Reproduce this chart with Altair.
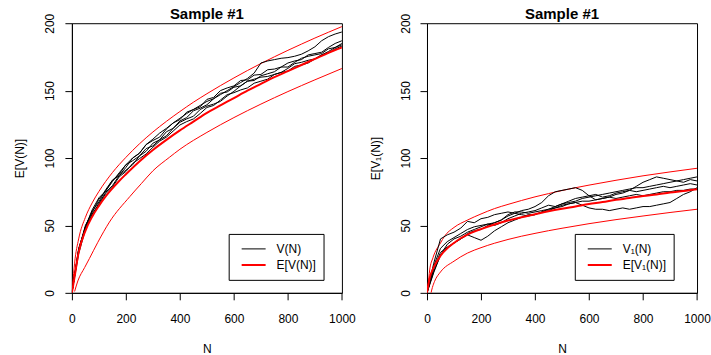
import altair as alt
import pandas as pd

# ---------------- data ----------------
N_GRID = list(range(0, 1001, 25))

# left panel: five sample paths V(N)
L_PATH_A = [0, 32, 50, 59.5, 69.5, 75.5, 83.5, 88, 95, 100, 103.5, 110, 114, 118.5, 122, 126, 129.5, 133, 136, 139,
            142, 144, 147, 150, 153, 156, 159, 163, 170.5, 172, 173, 174, 174.5, 175.5, 177, 179.5, 182.5, 187, 190, 192, 193.5]
L_PATH_B = [0, 31, 49, 60.5, 67.5, 76.5, 83.5, 87, 93, 100, 103.5, 110, 113, 115.5, 121.5, 126, 128.5, 134, 136, 138,
            143.5, 145, 150, 152, 153.5, 157.5, 158, 161.5, 162, 165.5, 166, 167.5, 170.5, 172, 173, 176.5, 177.5, 178.5, 182, 185, 187]
L_PATH_C = [0, 33, 48, 57.5, 66.5, 74.5, 79.5, 87, 91, 95, 101.5, 107, 109, 113.5, 119.5, 122, 127.5, 130, 135, 137,
            139.5, 144, 148, 149, 152.5, 153.5, 157, 157.5, 161, 162.5, 164, 167.5, 167.5, 171, 174, 175.5, 176.5, 177.5, 181, 182, 185]
L_PATH_D = [0, 29, 47, 58.5, 65.5, 73.5, 78.5, 86, 90, 96, 99.5, 103, 108, 112.5, 115.5, 120, 124.5, 127, 129, 133,
            137.5, 139, 143, 147, 148.5, 150.5, 152, 155.5, 157, 158.5, 162, 163.5, 164.5, 168, 169, 170.5, 173.5, 176.5, 178, 181, 183]
L_PATH_E = [0, 32, 49, 61.5, 70.5, 75.5, 82.5, 89, 95, 98, 101.5, 105, 111, 113.5, 116.5, 122, 126.5, 129, 131, 136,
            138.5, 140, 142, 146, 149.5, 153.5, 157, 158.5, 160, 160.5, 162, 163.5, 166.5, 170, 171, 172.5, 173.5, 176.5, 179, 182, 184]

# left panel: expectation and its two bounds
L_E_N = [0, 10, 25, 50, 75, 100, 125, 150, 175, 200, 250, 300, 350, 400, 450, 500, 550, 600, 650, 700, 750, 800, 850, 900, 950, 1000]
L_E = [0, 12, 30, 46, 56.5, 64.5, 71.5, 77.5, 83, 88, 97.5, 106, 113.5, 120.5, 127, 133.5, 139, 144.5, 150, 155, 160, 164.5, 169, 173.5, 178, 182]
L_UP_N = [3, 10, 25, 50, 75, 100, 150, 200, 250, 300, 350, 400, 450, 500, 550, 600, 650, 700, 750, 800, 850, 900, 950, 1000]
L_UP = [6, 22, 40, 56, 66.7, 75.2, 89.2, 100.5, 110.5, 119.3, 127.2, 134.5, 141.4, 147.7, 153.7, 159.4, 164.9, 170.1, 175.1, 179.9, 184.5, 189, 193.3, 197.5]
L_LO_N = [10, 22, 47, 65, 96, 139, 215, 257, 300, 361, 400, 500, 600, 700, 800, 900, 1000]
L_LO = [1, 8.8, 18.7, 25.5, 37.5, 52.5, 71.5, 81, 90.5, 100.5, 106.5, 119, 130, 140, 149.3, 158, 166.4]

# right panel: five sample paths V1(N)
R_PATH_A = [0, 22, 40, 43, 45, 48, 53, 52, 55, 56, 58, 59, 60, 59, 61, 62, 64, 67, 72, 75,
            76, 77, 78, 76, 72, 69, 70, 71, 73, 74, 76, 79, 82, 84, 86, 85, 84, 83, 82, 84, 83]
R_PATH_B = [0, 16, 28, 33, 37, 40, 43, 41, 39, 42, 46, 49, 52, 54, 56, 58, 58, 60, 62, 64,
            66, 67, 68, 70, 71, 72, 73, 74, 75, 76, 77, 78, 78, 79, 80, 81, 82, 83, 84, 85, 86]
R_PATH_C = [0, 18, 30, 34, 37, 40, 44, 46, 47, 50, 52, 54, 57, 59, 58, 57, 58, 60, 61, 63,
            64, 66, 67, 65, 63, 62, 62, 61, 62, 63, 62, 63, 64, 64, 65, 66, 67, 70, 73, 75, 78]
R_PATH_D = [0, 15, 28, 36, 40, 42, 45, 47, 49, 51, 50, 52, 55, 57, 59, 60, 61, 63, 65, 64,
            66, 68, 70, 71, 72, 73, 71, 72, 74, 75, 76, 75, 76, 77, 78, 79, 78, 79, 80, 81, 80]
R_PATH_E = [0, 20, 33, 38, 41, 44, 47, 49, 50, 51, 52, 54, 58, 60, 60, 59, 60, 61, 62, 63,
            65, 66, 67, 68, 68, 69, 70, 71, 70, 71, 72, 73, 72, 73, 74, 75, 75, 76, 76, 77, 77]

R_E_N = [0, 5, 10, 25, 50, 75, 100, 125, 150, 175, 200, 250, 300, 350, 400, 450, 500, 550, 600, 650, 700, 750, 800, 850, 900, 950, 1000]
R_E = [0, 6, 11, 19, 27.5, 33, 37, 40.5, 43.2, 45.4, 47.3, 50.7, 53.6, 56.1, 58.3, 60.5, 62.4, 64.1, 65.9, 67.3, 69, 70.3, 71.9, 73, 74.5, 75.5, 76.8]
R_UP_N = [4, 10, 22, 50, 65, 100, 150, 200, 250, 300, 350, 400, 450, 500, 600, 700, 800, 900, 1000]
R_UP = [4, 17, 26, 37, 42, 48.5, 54, 58.5, 62.5, 65.6, 68.5, 71.2, 73.6, 75.9, 79.9, 83.5, 86.8, 89.7, 92.4]
R_LO_N = [15, 20, 28, 50, 100, 150, 200, 250, 300, 350, 400, 450, 500, 600, 700, 800, 900, 1000]
R_LO = [0, 4, 8.5, 15.5, 23.5, 29.5, 33.5, 36.8, 39.6, 42, 44.1, 46.1, 47.9, 51.3, 54.3, 57, 59.6, 62]

X_TICKS = [0, 200, 400, 600, 800, 1000]
Y_TICKS = [0, 50, 100, 150, 200]
TITLE = "Sample #1"
RED = "#FF0000"
FONT = "Liberation Sans"


def path_frame(paths, label):
    rows = []
    for pid, vals in paths.items():
        for n, v in zip(N_GRID, vals):
            rows.append({"N": n, "v": v, "id": pid, "kind": label})
    return pd.DataFrame(rows)


def band_frame(up_n, up, lo_n, lo):
    rows = [{"N": n, "v": v, "band": "upper"} for n, v in zip(up_n, up)]
    rows += [{"N": n, "v": v, "band": "lower"} for n, v in zip(lo_n, lo)]
    return pd.DataFrame(rows)


def panel(paths, e_n, e_v, up_n, up, lo_n, lo, ylab, vlab, elab, legx, pad_spaces):
    dom = [vlab, elab]
    xenc = alt.X("N:Q", scale=alt.Scale(domain=[0, 1000], nice=False, zero=False),
                 axis=alt.Axis(values=X_TICKS, title="N", format="d"))
    yenc = alt.Y("v:Q", scale=alt.Scale(domain=[0, 200], nice=False),
                 axis=alt.Axis(values=Y_TICKS, title=ylab, labelAngle=270,
                               labelAlign="center", labelBaseline="bottom"))
    leg = alt.Legend(title=None, orient="none", legendX=legx, legendY=211,
                     strokeColor="black", fillColor="white", padding=7, cornerRadius=0,
                     symbolType="stroke", symbolSize=576, symbolOffset=5,
                     labelOffset=10, labelFont=FONT, labelFontSize=12, labelColor="black",
                     clipHeight=16, rowPadding=0,
                     labelExpr="datum.label + '" + "\u00a0" * pad_spaces + "'")
    color = alt.Color("kind:N", scale=alt.Scale(domain=dom, range=["#000000", RED]), legend=leg)
    sw = alt.StrokeWidth("kind:N", scale=alt.Scale(domain=dom, range=[1, 2]), legend=leg)

    bands = alt.Chart(band_frame(up_n, up, lo_n, lo)).mark_line(
        color=RED, strokeWidth=1, clip=True, interpolate="monotone"
    ).encode(x=xenc, y=yenc, detail="band:N")
    lines = alt.Chart(path_frame(paths, vlab)).mark_line(clip=True).encode(
        x=xenc, y=yenc, detail="id:N", color=color, strokeWidth=sw)
    e_df = pd.DataFrame({"N": e_n, "v": e_v, "kind": elab})
    ecurve = alt.Chart(e_df).mark_line(clip=True, interpolate="monotone").encode(
        x=xenc, y=yenc, color=color, strokeWidth=sw)
    return alt.layer(bands, lines, ecurve).properties(
        width=270.4, height=270,
        title=alt.TitleParams(TITLE, fontSize=15, fontWeight="bold", font=FONT,
                              color="black", offset=-9, anchor="middle"))


left = panel({"a": L_PATH_A, "b": L_PATH_B, "c": L_PATH_C, "d": L_PATH_D, "e": L_PATH_E},
             L_E_N, L_E, L_UP_N, L_UP, L_LO_N, L_LO,
             "E[V(N)]", "V(N)", "E[V(N)]", 157, 3)
right = panel({"a": R_PATH_A, "b": R_PATH_B, "c": R_PATH_C, "d": R_PATH_D, "e": R_PATH_E},
              R_E_N, R_E, R_UP_N, R_UP, R_LO_N, R_LO,
              "E[V\u2081(N)]", "V\u2081(N)", "E[V\u2081(N)]", 148, 6)

chart = alt.hconcat(left, right, spacing=84.6, bounds="flush").resolve_scale(
    color="independent", strokeWidth="independent"
).properties(
    padding={"left": 13, "top": 6, "right": 0, "bottom": 0}
).configure_view(
    stroke="black", strokeWidth=1
).configure_axis(
    grid=False, domainColor="black", domainWidth=1, tickColor="black", tickSize=7,
    labelFont=FONT, labelFontSize=12, labelColor="black",
    titleFont=FONT, titleFontSize=12, titleFontWeight="normal", titleColor="black",
    labelFlush=False, labelOverlap=False
).configure_axisX(
    labelPadding=14, titlePadding=19
).configure_axisY(
    labelPadding=8, titlePadding=17
)

chart.save("out.html", embed_options={"renderer": "svg", "actions": False})
